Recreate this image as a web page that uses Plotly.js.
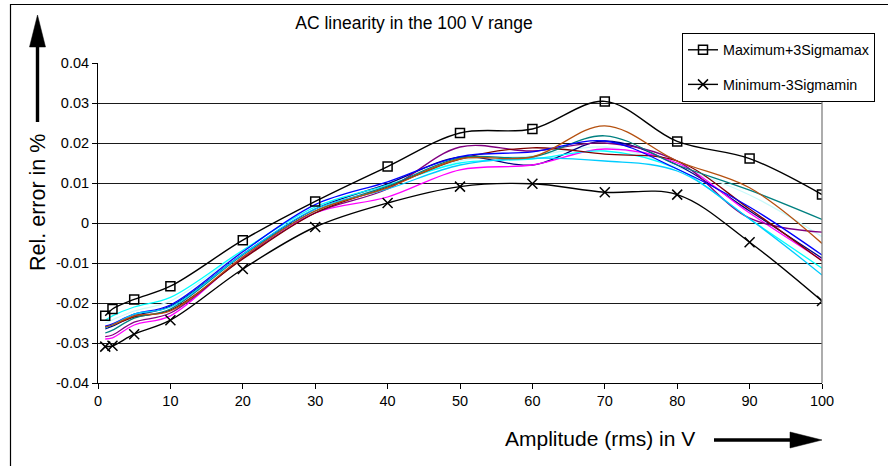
<!DOCTYPE html>
<html>
<head>
<meta charset="utf-8">
<script src="https://cdn.plot.ly/plotly-3.0.1.min.js"></script>
<style>html,body{margin:0;padding:0;background:#fff;}#chart{width:888px;height:466px;}</style>
</head>
<body>
<div id="chart"></div>
<script>
// ---- data ----
const amplitude = [1, 2, 5, 10, 20, 30, 40, 50, 60, 70, 80, 90, 100];

const maxPlus3Sigma = [-0.0232, -0.0215, -0.0191, -0.0158, -0.0043, 0.0054, 0.0141, 0.0225, 0.0235, 0.0304, 0.0204, 0.0161, 0.0071];
const minMinus3Sigma = [-0.0309, -0.0307, -0.0278, -0.0243, -0.0115, -0.0010, 0.0050, 0.0091, 0.0098, 0.0077, 0.0071, -0.0048, -0.0195];

const seriesNavy     = [-0.0265, -0.0258, -0.0232, -0.0208, -0.0078, 0.0035, 0.0098, 0.0165, 0.0145, 0.0205, 0.0145, 0.0030, -0.0088];
const seriesMagenta  = [-0.0290, -0.0287, -0.0255, -0.0232, -0.0085, 0.0025, 0.0065, 0.0133, 0.0145, 0.0185, 0.0150, 0.0025, -0.0093];
const seriesCyan     = [-0.0243, -0.0232, -0.0210, -0.0186, -0.0068, 0.0040, 0.0095, 0.0150, 0.0160, 0.0180, 0.0135, 0.0010, -0.0113];
const seriesPurple   = [-0.0284, -0.0280, -0.0248, -0.0225, -0.0088, 0.0025, 0.0085, 0.0190, 0.0180, 0.0200, 0.0155, 0.0012, -0.0023];
const seriesDarkRed  = [-0.0260, -0.0255, -0.0235, -0.0218, -0.0090, 0.0025, 0.0090, 0.0160, 0.0188, 0.0172, 0.0155, 0.0035, -0.0095];
const seriesTeal     = [-0.0275, -0.0268, -0.0238, -0.0215, -0.0080, 0.0030, 0.0092, 0.0163, 0.0165, 0.0218, 0.0145, 0.0082, 0.0009];
const seriesBlue     = [-0.0258, -0.0252, -0.0228, -0.0205, -0.0072, 0.0046, 0.0103, 0.0166, 0.0178, 0.0205, 0.0135, 0.0040, -0.0080];
const seriesSkyBlue  = [-0.0262, -0.0255, -0.0228, -0.0210, -0.0078, 0.0035, 0.0085, 0.0145, 0.0162, 0.0155, 0.0130, 0.0010, -0.0130];
const seriesPaleCyan = [-0.0250, -0.0242, -0.0220, -0.0195, -0.0070, 0.0040, 0.0092, 0.0155, 0.0168, 0.0190, 0.0140, 0.0070, -0.0034];
const seriesBrown    = [-0.0260, -0.0255, -0.0232, -0.0220, -0.0085, 0.0030, 0.0088, 0.0160, 0.0165, 0.0243, 0.0155, 0.0088, -0.0051];

const seriesValues = [seriesPaleCyan, seriesNavy, seriesMagenta, seriesCyan, seriesPurple, seriesDarkRed, seriesTeal, seriesBlue, seriesSkyBlue, seriesBrown];
const seriesColors = ['#C8FAFA', '#000080', '#FF00FF', '#00FFFF', '#800080', '#800000', '#008080', '#0000FF', '#00CCFF', '#B5500F'];

const legendNames = ['Maximum+3Sigmamax', 'Minimum-3Sigmamin'];
const xTickVals = [0, 10, 20, 30, 40, 50, 60, 70, 80, 90, 100];
const yTickVals = [-0.04, -0.03, -0.02, -0.01, 0, 0.01, 0.02, 0.03, 0.04];
const yTickText = ['-0.04', '-0.03', '-0.02', '-0.01', '0', '0.01', '0.02', '0.03', '0.04'];

const titleText = 'AC linearity in the 100 V range';
const xTitleText = 'Amplitude (rms) in V';
const yTitleText = 'Rel. error in %';

// ---- geometry helpers (plot area in pixels) ----
const W = 888, H = 466;
const L = 98, R = 822, T = 63, B = 383;
const px = v => (v - L) / (R - L);
const py = v => (B - v) / (B - T);

const traces = [];
seriesValues.forEach((vals, i) => {
  traces.push({
    type: 'scatter', mode: 'lines', x: amplitude, y: vals,
    line: {color: seriesColors[i], width: 1.3, shape: 'spline', smoothing: 1},
    showlegend: false, hoverinfo: 'skip'
  });
});
traces.push({
  type: 'scatter', mode: 'lines+markers', name: legendNames[0], legendgroup: 'a',
  x: amplitude, y: maxPlus3Sigma,
  line: {color: '#000', width: 1.4, shape: 'spline', smoothing: 1},
  marker: {symbol: 'square-open', size: 9, color: '#000', line: {width: 1.5, color: '#000'}}
});
traces.push({
  type: 'scatter', mode: 'lines+markers', name: legendNames[1], legendgroup: 'b',
  x: amplitude, y: minMinus3Sigma,
  line: {color: '#000', width: 1.4, shape: 'spline', smoothing: 1},
  marker: {symbol: 'x-thin-open', size: 10, color: '#000', line: {width: 1.5, color: '#000'}}
});

const fontFam = 'Liberation Sans, Arial, sans-serif';

const layout = {
  width: W, height: H, autosize: false,
  paper_bgcolor: '#fff', plot_bgcolor: '#fff',
  margin: {l: L, r: W - R, t: T, b: H - B, pad: 0},
  font: {family: fontFam, color: '#000', size: 14.5},
  title: {text: titleText, x: 414 / W, xanchor: 'center', y: 1 - 23 / H, yanchor: 'middle', font: {size: 17.5, family: fontFam, color: '#000'}},
  xaxis: {
    range: [0, 100], tickvals: xTickVals, ticktext: xTickVals.map(String),
    showgrid: false, zeroline: false, showline: true, linecolor: '#000', linewidth: 1,
    ticks: 'outside', ticklen: 5, tickcolor: '#000', tickfont: {size: 14.5, family: fontFam, color: '#000'}
  },
  yaxis: {
    range: [-0.04, 0.04], tickvals: yTickVals, ticktext: yTickText,
    showgrid: true, gridcolor: '#1a1a1a', gridwidth: 1, zeroline: false,
    showline: true, linecolor: '#000', linewidth: 1,
    ticks: 'outside', ticklen: 5, tickcolor: '#000', tickfont: {size: 14.5, family: fontFam, color: '#000'}
  },
  showlegend: true,
  legend: {
    x: px(682), y: py(33), xanchor: 'left', yanchor: 'top',
    bgcolor: '#fff', bordercolor: '#000', borderwidth: 1,
    font: {size: 14.3, family: fontFam, color: '#000'},
    traceorder: 'grouped', tracegroupgap: 13
  },
  shapes: [
    // outer chart frame
    {type: 'rect', xref: 'paper', yref: 'paper', x0: px(10.5), x1: px(900), y0: py(4.5), y1: py(480), line: {color: '#000', width: 1.2}, fillcolor: 'rgba(0,0,0,0)', layer: 'below'},
    // right border of plot area
    {type: 'line', xref: 'paper', yref: 'paper', x0: 1, x1: 1, y0: 0, y1: 1, line: {color: '#808080', width: 1.3}, layer: 'above'},
    // vertical arrow
    {type: 'line', xref: 'paper', yref: 'paper', x0: px(37.5), x1: px(37.5), y0: py(122), y1: py(45), line: {color: '#000', width: 3.4}},
    {type: 'path', xref: 'paper', yref: 'paper', path: `M ${px(29.5)} ${py(47)} L ${px(45.5)} ${py(47)} L ${px(37.5)} ${py(15)} Z`, fillcolor: '#000', line: {color: '#000', width: 0.5}},
    // horizontal arrow
    {type: 'line', xref: 'paper', yref: 'paper', x0: px(714), x1: px(792), y0: py(440), y1: py(440), line: {color: '#000', width: 3.4}},
    {type: 'path', xref: 'paper', yref: 'paper', path: `M ${px(790)} ${py(432)} L ${px(790)} ${py(448)} L ${px(822)} ${py(440)} Z`, fillcolor: '#000', line: {color: '#000', width: 0.5}}
  ],
  annotations: [
    {text: yTitleText, xref: 'paper', yref: 'paper', x: px(38), y: py(203), xanchor: 'center', yanchor: 'middle', textangle: -90, showarrow: false, font: {size: 21.5, family: fontFam, color: '#000'}},
    {text: xTitleText, xref: 'paper', yref: 'paper', x: px(600), y: py(438), xanchor: 'center', yanchor: 'middle', showarrow: false, font: {size: 21, family: fontFam, color: '#000'}}
  ]
};

Plotly.newPlot('chart', traces, layout, {staticPlot: true, displayModeBar: false});
</script>
</body>
</html>
